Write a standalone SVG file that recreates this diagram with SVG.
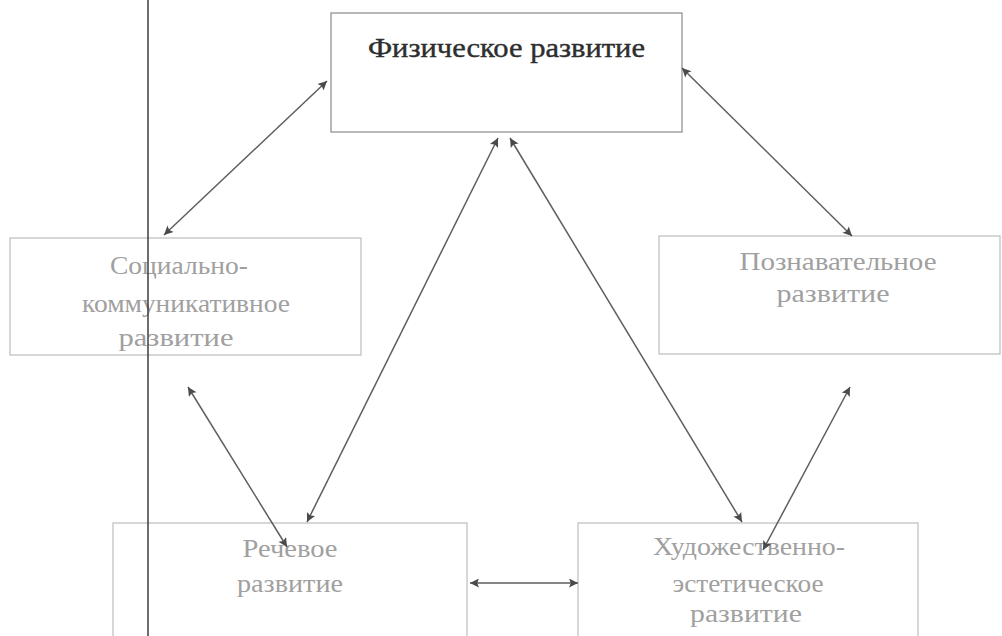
<svg xmlns="http://www.w3.org/2000/svg" width="1002" height="636" viewBox="0 0 1002 636">
<style>
.box{fill:#fff;stroke:#bdbdbd;stroke-width:1.2}
.box-main{fill:#fff;stroke:#8a8a8a;stroke-width:1.2}
.t{font-family:"Liberation Serif","DejaVu Serif",serif;font-size:25px;fill:#a0a0a0;text-anchor:middle}
.tm{font-family:"Liberation Serif","DejaVu Serif",serif;font-size:27px;fill:#2e2e2e;text-anchor:middle;stroke:#2e2e2e;stroke-width:0.4}
.c{stroke:#5e5e5e;stroke-width:1.5;fill:none;marker-start:url(#ah);marker-end:url(#ah)}
</style>
<defs>
<marker id="ah" viewBox="0 0 10 10" refX="10" refY="5" markerWidth="12" markerHeight="9" markerUnits="userSpaceOnUse" orient="auto-start-reverse">
<path d="M0,0 L10,5 L0,10 L2,5 Z" fill="#4a4a4a"/>
</marker>
</defs>
<rect width="1002" height="636" fill="#fff"/>
<g id="node-physical">
<rect class="box-main" x="331" y="13" width="351" height="119"/>
<text class="tm" x="506.5" y="57" textLength="277" lengthAdjust="spacingAndGlyphs">Физическое развитие</text>
</g>
<g id="node-social">
<rect class="box" x="10" y="238" width="351" height="117"/>
<text class="t" x="179" y="274" textLength="138" lengthAdjust="spacingAndGlyphs">Социально-</text>
<text class="t" x="186" y="312" textLength="208" lengthAdjust="spacingAndGlyphs">коммуникативное</text>
<text class="t" x="176" y="346" textLength="115" lengthAdjust="spacingAndGlyphs">развитие</text>
</g>
<g id="node-cognitive">
<rect class="box" x="659" y="236" width="341" height="118"/>
<text class="t" x="838" y="270" textLength="197" lengthAdjust="spacingAndGlyphs">Познавательное</text>
<text class="t" x="833" y="302" textLength="113" lengthAdjust="spacingAndGlyphs">развитие</text>
</g>
<g id="node-speech">
<rect class="box" x="113" y="523" width="354" height="120"/>
<text class="t" x="290" y="557" textLength="95" lengthAdjust="spacingAndGlyphs">Речевое</text>
<text class="t" x="290" y="592" textLength="106" lengthAdjust="spacingAndGlyphs">развитие</text>
</g>
<g id="node-art">
<rect class="box" x="578" y="523" width="340" height="120"/>
<text class="t" x="749" y="555" textLength="192" lengthAdjust="spacingAndGlyphs">Художественно-</text>
<text class="t" x="748" y="592" textLength="151" lengthAdjust="spacingAndGlyphs">эстетическое</text>
<text class="t" x="746" y="622" textLength="112" lengthAdjust="spacingAndGlyphs">развитие</text>
</g>
<g id="connectors">
<line class="c" x1="327" y1="81" x2="164" y2="235"/>
<line class="c" x1="682" y1="68" x2="852" y2="236"/>
<line class="c" x1="498" y1="138" x2="307" y2="522"/>
<line class="c" x1="510" y1="138" x2="742" y2="522"/>
<line class="c" x1="188" y1="387" x2="287" y2="547"/>
<line class="c" x1="850" y1="387" x2="763" y2="550"/>
<line class="c" x1="470" y1="583" x2="578" y2="583"/>
</g>
<line id="vertical-rule" x1="148" y1="0" x2="148" y2="636" stroke="#3c3c3c" stroke-width="1.5"/>
</svg>
